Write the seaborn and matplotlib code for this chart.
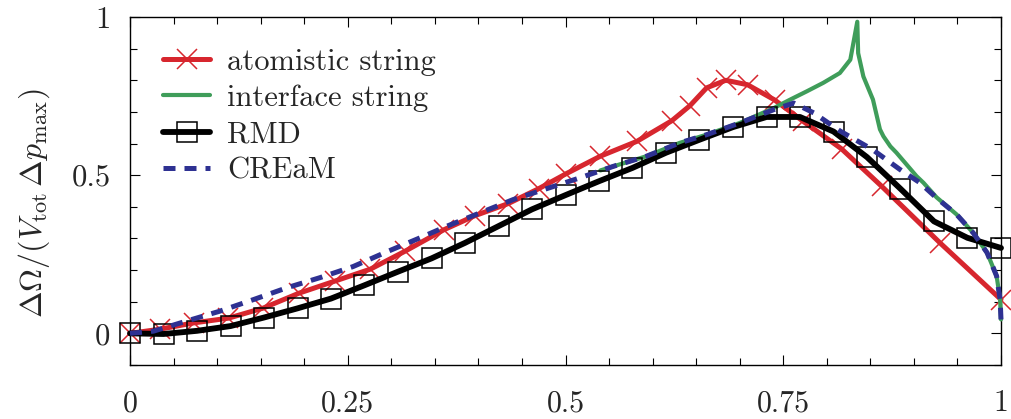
import matplotlib
matplotlib.use("Agg")
import matplotlib.pyplot as plt
import seaborn as sns
from matplotlib.ticker import MultipleLocator, FixedLocator, FixedFormatter

# ---- data -------------------------------------------------------------
# atomistic string: images along the path (normalised coordinate, free energy)
atom_x = [0.0, 0.034, 0.073, 0.113, 0.153, 0.194, 0.235, 0.276, 0.316, 0.36,
          0.396, 0.434, 0.469, 0.501, 0.54, 0.582, 0.622, 0.643, 0.662, 0.684,
          0.709, 0.74, 0.773, 0.817, 0.863, 0.93, 1.0]
atom_y = [0.0, 0.013, 0.033, 0.048, 0.08, 0.127, 0.165, 0.203, 0.26, 0.327,
          0.372, 0.41, 0.457, 0.505, 0.56, 0.607, 0.672, 0.72, 0.776, 0.80,
          0.786, 0.738, 0.67, 0.583, 0.465, 0.286, 0.107]

# interface string
iface_x = [0.54, 0.555, 0.593, 0.631, 0.662, 0.7, 0.739, 0.758, 0.777, 0.796,
           0.815, 0.827, 0.835, 0.836, 0.842, 0.853, 0.861, 0.865, 0.873, 0.88,
           0.903, 0.911, 0.926, 0.949, 0.968, 0.984, 0.995, 0.999, 1.0]
iface_y = [0.515, 0.528, 0.56, 0.602, 0.628, 0.665, 0.712, 0.739, 0.765, 0.792,
           0.823, 0.865, 0.985, 0.886, 0.812, 0.739, 0.645, 0.623, 0.591, 0.571,
           0.497, 0.476, 0.43, 0.376, 0.318, 0.255, 0.181, 0.107, 0.044]

# RMD
rmd_x = [0.0, 0.0385, 0.0769, 0.1154, 0.1538, 0.1923, 0.2308, 0.2692, 0.3077,
         0.3462, 0.3846, 0.4231, 0.4615, 0.5, 0.5385, 0.5769, 0.6154, 0.6538,
         0.6923, 0.7308, 0.7692, 0.8077, 0.8462, 0.8846, 0.9231, 0.9615, 1.0]
rmd_y = [0.0, -0.002, 0.008, 0.023, 0.05, 0.079, 0.11, 0.152, 0.195, 0.237,
         0.286, 0.339, 0.392, 0.437, 0.481, 0.523, 0.571, 0.612, 0.652, 0.684,
         0.684, 0.638, 0.557, 0.457, 0.354, 0.302, 0.27]

# CREaM
cream_x = [0.0, 0.027, 0.065, 0.103, 0.142, 0.18, 0.218, 0.256, 0.295, 0.333,
           0.364, 0.402, 0.44, 0.478, 0.517, 0.555, 0.593, 0.631, 0.662, 0.7,
           0.739, 0.762, 0.785, 0.815, 0.853, 0.884, 0.907, 0.926, 0.949, 0.968,
           0.984, 0.995, 0.999, 1.0]
cream_y = [0.0, 0.007, 0.039, 0.07, 0.107, 0.144, 0.176, 0.211, 0.258, 0.302,
           0.339, 0.381, 0.423, 0.457, 0.492, 0.528, 0.56, 0.602, 0.628, 0.665,
           0.707, 0.728, 0.697, 0.64, 0.58, 0.518, 0.476, 0.428, 0.376, 0.318,
           0.255, 0.181, 0.107, 0.044]

x_ticks = [0, 0.25, 0.5, 0.75, 1]
x_ticklabels = ["0", "0.25", "0.5", "0.75", "1"]
y_ticks = [0, 0.5, 1]
y_ticklabels = ["0", "0.5", "1"]

# ---- style ------------------------------------------------------------
sns.set_theme(style="ticks")
plt.rcParams["font.family"] = ["cmr10", "DejaVu Serif"]
plt.rcParams["mathtext.fontset"] = "cm"
plt.rcParams["axes.formatter.use_mathtext"] = True
plt.rcParams["axes.unicode_minus"] = False

RED = "#d7262e"
GREEN = "#3f9d5a"
BLUE = "#2e3192"

fig = plt.figure(figsize=(10.11, 4.19), dpi=100)
ax = fig.add_axes([0.1286, 0.1289, 0.8615, 0.8305])

sns.lineplot(x=atom_x, y=atom_y, ax=ax, sort=False, estimator=None,
             color=RED, lw=3.6, marker="x", markersize=14,
             markeredgewidth=1.1, markeredgecolor=RED,
             label="atomistic string", clip_on=False, zorder=3)
sns.lineplot(x=iface_x, y=iface_y, ax=ax, sort=False, estimator=None,
             color=GREEN, lw=3.0, label="interface string",
             clip_on=False, zorder=3)
sns.lineplot(x=rmd_x, y=rmd_y, ax=ax, sort=False, estimator=None,
             color="black", lw=4.2, marker="s", markersize=14.5,
             markerfacecolor="none", markeredgecolor="black",
             markeredgewidth=1.1, label="RMD", clip_on=False, zorder=4)
sns.lineplot(x=cream_x, y=cream_y, ax=ax, sort=False, estimator=None,
             color=BLUE, lw=3.6, linestyle=(0, (2.4, 1.8)),
             label="CREaM", clip_on=False, zorder=5)

ax.set_xlim(0, 1)
ax.set_ylim(-0.1, 1.0)

ax.xaxis.set_major_locator(FixedLocator(x_ticks))
ax.xaxis.set_major_formatter(FixedFormatter(x_ticklabels))
ax.xaxis.set_minor_locator(MultipleLocator(0.05))
ax.yaxis.set_major_locator(FixedLocator(y_ticks))
ax.yaxis.set_major_formatter(FixedFormatter(y_ticklabels))
ax.yaxis.set_minor_locator(MultipleLocator(0.1))

ax.tick_params(which="both", direction="in", top=True, right=True,
               width=0.8, color="black")
ax.tick_params(which="major", length=7.2)
ax.tick_params(which="minor", length=4.7)
ax.tick_params(axis="x", which="major", pad=18, labelsize=21.5)
ax.tick_params(axis="y", which="major", pad=14, labelsize=22)
for s in ax.spines.values():
    s.set_linewidth(1.0)
    s.set_color("black")

ax.set_xlabel("")
ax.set_ylabel(r"$\Delta\Omega/(V_{\rm tot}\,\Delta p_{\rm max})$", fontsize=23)
ax.yaxis.set_label_coords(-0.09, 0.465)

leg = ax.legend(loc="upper left", bbox_to_anchor=(0.038, 0.91),
                frameon=False, fontsize=22, handlelength=1.55,
                handletextpad=0.55, labelspacing=0.29, borderpad=0,
                borderaxespad=0)

fig.savefig("out.png", dpi=100)
